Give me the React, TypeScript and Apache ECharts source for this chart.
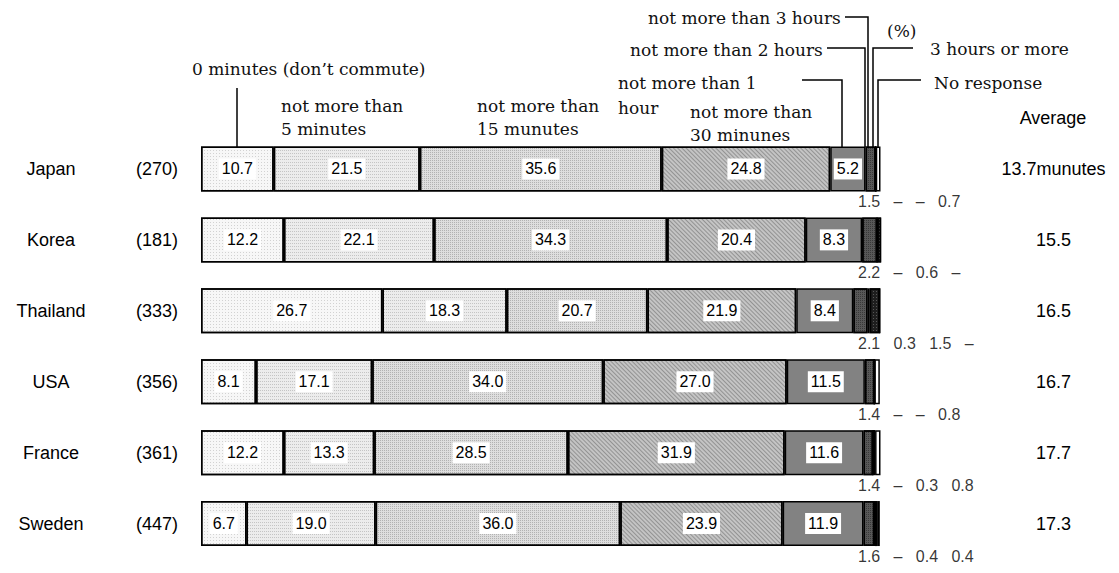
import React, { useEffect, useRef } from "react";
import * as echarts from "echarts";

const countries = ["Japan", "Korea", "Thailand", "USA", "France", "Sweden"];
const sampleSizes = [270, 181, 333, 356, 361, 447];
const averageMinutes = [13.7, 15.5, 16.5, 16.7, 17.7, 17.3];

const seriesNames = [
  "0 minutes (don't commute)",
  "not more than 5 minutes",
  "not more than 15 munutes",
  "not more than 30 minunes",
  "not more than 1 hour",
  "not more than 2 hours",
  "not more than 3 hours",
  "3 hours or more",
  "No response",
];

const zeroMin = [10.7, 12.2, 26.7, 8.1, 12.2, 6.7];
const upTo5Min = [21.5, 22.1, 18.3, 17.1, 13.3, 19.0];
const upTo15Min = [35.6, 34.3, 20.7, 34.0, 28.5, 36.0];
const upTo30Min = [24.8, 20.4, 21.9, 27.0, 31.9, 23.9];
const upTo1Hour = [5.2, 8.3, 8.4, 11.5, 11.6, 11.9];
const upTo2Hours = [1.5, 2.2, 2.1, 1.4, 1.4, 1.6];
const upTo3Hours: (number | null)[] = [null, null, 0.3, null, null, null];
const over3Hours: (number | null)[] = [null, 0.6, 1.5, null, 0.3, 0.4];
const noResponse: (number | null)[] = [0.7, null, null, 0.8, 0.8, 0.4];

const SANS = "'Liberation Sans', Arial, sans-serif";
const SERIF = "'DejaVu Serif', 'Liberation Serif', serif";

const fills = ["#f7f7f7", "#ececec", "#dedede", "#c4c4c4", "#828282", "#585858", "#3c3c3c", "#1e1e1e", "#ffffff"];

const decals: any[] = [
  { symbol: "rect", symbolSize: 1, color: "rgba(0,0,0,0.15)", dashArrayX: [1, 2], dashArrayY: [1, 2] },
  { symbol: "rect", symbolSize: 1, color: "rgba(0,0,0,0.17)", dashArrayX: [1, 1], dashArrayY: [1, 2] },
  { symbol: "rect", symbolSize: 1, color: "rgba(0,0,0,0.2)", dashArrayX: [1, 1], dashArrayY: [1, 1] },
  { symbol: "rect", symbolSize: 1, rotation: Math.PI / 4, color: "rgba(0,0,0,0.25)", dashArrayX: [[1, 0]], dashArrayY: [1, 2] },
  null,
  { symbol: "rect", symbolSize: 1, color: "rgba(0,0,0,0.35)", dashArrayX: [1, 1], dashArrayY: [1, 1] },
  null,
  { symbol: "rect", symbolSize: 1, color: "rgba(255,255,255,0.25)", dashArrayX: [1, 2], dashArrayY: [1, 2] },
  null,
];

const fmt = (v: number | null) => (v == null ? "–" : v.toFixed(1));

export default function App() {
  const ref = useRef<HTMLDivElement>(null);
  useEffect(() => {
    document.body.style.margin = "0";
    const chart = echarts.init(ref.current!, undefined, { renderer: "svg" });
    const allData = [zeroMin, upTo5Min, upTo15Min, upTo30Min, upTo1Hour, upTo2Hours, upTo3Hours, over3Hours, noResponse];

    const barSeries = allData.map((d, si) => ({
      name: seriesNames[si],
      type: "bar",
      stack: "total",
      barWidth: 45,
      data: d.map((v) => (v == null ? 0 : v)),
      itemStyle: {
        color: fills[si],
        borderColor: "#000",
        borderWidth: 1.5,
        ...(decals[si] ? { decal: decals[si] } : {}),
      },
      label: {
        show: si < 5,
        position: "inside",
        formatter: (p: any) => Number(p.value).toFixed(1),
        backgroundColor: "#fff",
        padding: [3, 3, 2, 3],
        color: "#000",
        fontFamily: SANS,
        fontSize: 16,
      },
      emphasis: { disabled: true },
      silent: true,
    }));

    const smallLabels = countries.map((_, i) =>
      [upTo2Hours[i], upTo3Hours[i], over3Hours[i], noResponse[i]].map(fmt).join("   ")
    );

    const underSeries = {
      type: "scatter",
      symbolSize: 1,
      itemStyle: { color: "rgba(0,0,0,0)" },
      data: countries.map((_, i) => [100, i]),
      label: {
        show: true,
        position: [-22, 33],
        align: "left",
        verticalAlign: "middle",
        formatter: (p: any) => smallLabels[p.dataIndex],
        fontFamily: SANS,
        fontSize: 16,
        color: "#000",
      },
      silent: true,
    };

    const line = (points: number[][]) => ({
      type: "polyline",
      shape: { points },
      style: { stroke: "#000", lineWidth: 1.5, fill: null },
      silent: true,
    });
    const txt = (x: number, y: number, text: string, extra: any = {}) => ({
      type: "text",
      x,
      y,
      style: {
        text,
        font: `17px ${SERIF}`,
        fill: "#111",
        textVerticalAlign: "top",
        lineHeight: 23,
        ...extra,
      },
      silent: true,
    });

    chart.setOption({
      animation: false,
      grid: { left: 201, right: 238.5, top: 133.5, bottom: 14, containLabel: false },
      xAxis: { type: "value", min: 0, max: 100, show: false },
      yAxis: [
        {
          type: "category",
          data: countries,
          inverse: true,
          axisLine: { show: false },
          axisTick: { show: false },
          axisLabel: {
            margin: 23,
            formatter: (v: string, i: number) => `{c|${v}}{n|(${sampleSizes[i]})}`,
            rich: {
              c: { width: 94, align: "center", fontSize: 18, fontFamily: SANS, color: "#000" },
              n: { width: 80, align: "right", fontSize: 18, fontFamily: SANS, color: "#000" },
            },
          },
        },
        {
          type: "category",
          data: countries,
          inverse: true,
          position: "right",
          axisLine: { show: false },
          axisTick: { show: false },
          axisLabel: {
            margin: 173,
            align: "center",
            fontSize: 18,
            fontFamily: SANS,
            color: "#000",
            formatter: (_v: string, i: number) =>
              i === 0 ? `${averageMinutes[i].toFixed(1)}munutes` : averageMinutes[i].toFixed(1),
          },
        },
      ],
      series: [...barSeries, underSeries],
      graphic: [
        txt(192, 57, "0 minutes (don\u2019t commute)"),
        line([[237, 88], [237, 147]]),
        txt(281, 94, "not more than\n5 minutes"),
        txt(477, 94, "not more than\n15 munutes"),
        txt(618, 70, "not more than 1\nhour", { lineHeight: 25 }),
        line([[802, 80], [842, 80], [842, 147]]),
        txt(690, 100, "not more than\n30 minunes"),
        txt(648, 6, "not more than 3 hours"),
        line([[845, 17], [868, 17], [868, 147]]),
        txt(630, 38, "not more than 2 hours"),
        line([[827, 48], [865, 48], [865, 147]]),
        txt(887, 19, "(%)"),
        txt(930, 37, "3 hours or more"),
        line([[913, 48], [873, 48], [873, 147]]),
        txt(934, 71, "No response"),
        line([[921, 80], [878, 80], [878, 147]]),
        {
          type: "text",
          x: 1053,
          y: 118,
          style: { text: "Average", font: `18px ${SANS}`, fill: "#000", textAlign: "center", textVerticalAlign: "middle" },
          silent: true,
        },
      ],
    });
    return () => chart.dispose();
  }, []);
  return <div ref={ref} style={{ width: 1119, height: 573 }} />;
}
